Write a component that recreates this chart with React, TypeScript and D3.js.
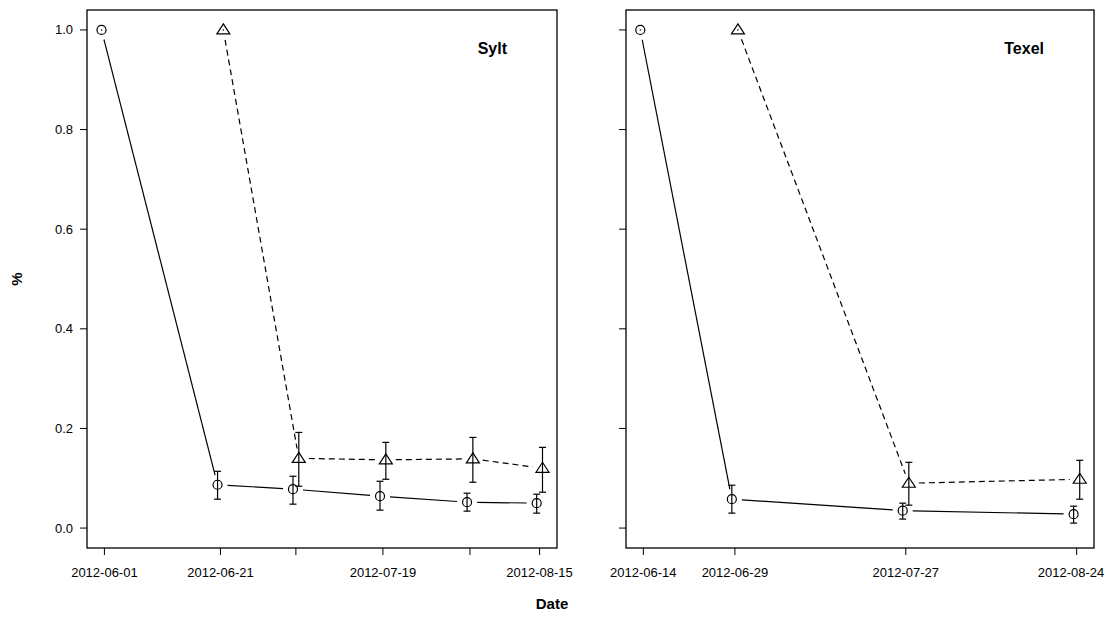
import React from "react";
import * as d3 from "d3";

// ---- data ----
const syltCircleDates = ["2012-06-01", "2012-06-21", "2012-07-04", "2012-07-19", "2012-08-03", "2012-08-15"];
const syltCircleVals = [1.0, 0.087, 0.078, 0.064, 0.052, 0.05];
const syltCircleLo = [1.0, 0.058, 0.048, 0.036, 0.034, 0.03];
const syltCircleHi = [1.0, 0.114, 0.104, 0.094, 0.07, 0.068];

const syltTriDates = ["2012-06-21", "2012-07-04", "2012-07-19", "2012-08-03", "2012-08-15"];
const syltTriVals = [1.0, 0.14, 0.137, 0.139, 0.12];
const syltTriLo = [1.0, 0.084, 0.098, 0.092, 0.072];
const syltTriHi = [1.0, 0.192, 0.172, 0.182, 0.162];

const syltTicks = ["2012-06-01", "2012-06-21", "2012-07-04", "2012-07-19", "2012-08-03", "2012-08-15"];
const syltTickLabels = ["2012-06-01", "2012-06-21", "2012-07-19", "2012-08-15"];

const texelCircleDates = ["2012-06-14", "2012-06-29", "2012-07-27", "2012-08-24"];
const texelCircleVals = [1.0, 0.058, 0.035, 0.028];
const texelCircleLo = [1.0, 0.03, 0.018, 0.01];
const texelCircleHi = [1.0, 0.086, 0.05, 0.044];

const texelTriDates = ["2012-06-29", "2012-07-27", "2012-08-24"];
const texelTriVals = [1.0, 0.09, 0.098];
const texelTriLo = [1.0, 0.046, 0.058];
const texelTriHi = [1.0, 0.132, 0.136];

const texelTicks = ["2012-06-14", "2012-06-29", "2012-07-27", "2012-08-24"];
const texelTickLabels = ["2012-06-14", "2012-06-29", "2012-07-27", "2012-08-24"];

const yTicks = [0, 0.2, 0.4, 0.6, 0.8, 1.0];

const parse = d3.utcParse("%Y-%m-%d");
const FONT = "'Liberation Sans', Arial, sans-serif";
const DAY = 86400000;
const W = 1106, H = 617;

const zip = (dates, vals, lo, hi) =>
  dates.map((d, i) => ({ date: parse(d), v: vals[i], lo: lo[i], hi: hi[i] }));

function Series({ pts, x, y, shape, dashed, dx }) {
  const P = pts.map((p) => ({ px: x(new Date(+p.date + dx * DAY)), py: y(p.v), p }));
  const gap = 10;
  const segs = [];
  for (let i = 0; i < P.length - 1; i++) {
    const a = P[i], b = P[i + 1];
    const len = Math.hypot(b.px - a.px, b.py - a.py);
    if (len <= 2 * gap) continue;
    const ux = (b.px - a.px) / len, uy = (b.py - a.py) / len;
    segs.push([a.px + ux * gap, a.py + uy * gap, b.px - ux * gap, b.py - uy * gap]);
  }
  return (
    <g>
      {segs.map((s, i) => (
        <line key={"s" + i} x1={s[0]} y1={s[1]} x2={s[2]} y2={s[3]} stroke="#000" strokeWidth={1.2}
          strokeDasharray={dashed ? "6 4" : undefined} />
      ))}
      {P.map((q, i) => {
        const top = y(q.p.hi), bot = y(q.p.lo);
        return (
          <g key={"p" + i}>
            {bot - top > 1 && (
              <g stroke="#000" strokeWidth={1.2}>
                <line x1={q.px} x2={q.px} y1={top} y2={bot} />
                <line x1={q.px - 3.5} x2={q.px + 3.5} y1={top} y2={top} />
                <line x1={q.px - 3.5} x2={q.px + 3.5} y1={bot} y2={bot} />
              </g>
            )}
            {bot - top <= 1 && <circle cx={q.px} cy={q.py} r={0.8} fill="#000" />}
            {shape === "circle" ? (
              <circle cx={q.px} cy={q.py} r={4.5} fill="none" stroke="#000" strokeWidth={1.2} />
            ) : (
              <path
                d={`M${q.px},${q.py - 6}L${q.px + 6.5},${q.py + 4}L${q.px - 6.5},${q.py + 4}Z`}
                fill="none" stroke="#000" strokeWidth={1.2} />
            )}
          </g>
        );
      })}
    </g>
  );
}

function Panel({ left, right, top, bottom, ticks, tickLabels, circles, tris, title, showYLabels }) {
  const y = d3.scaleLinear().domain([-0.04, 1.04]).range([bottom, top]);
  const all = ticks.map(parse);
  const ext = d3.extent(all) as [Date, Date];
  const span = +ext[1] - +ext[0];
  const x = d3.scaleUtc()
    .domain([new Date(+ext[0] - span * 0.04), new Date(+ext[1] + span * 0.04)])
    .range([left, right]);
  return (
    <g fontFamily={FONT}>
      <rect x={left} y={top} width={right - left} height={bottom - top} fill="none" stroke="#000" strokeWidth={1.3} />
      {yTicks.map((t) => (
        <g key={t}>
          <line x1={left - 7} x2={left} y1={y(t)} y2={y(t)} stroke="#000" />
          {showYLabels && (
            <text x={left - 14} y={y(t) + 4.5} textAnchor="end" fontSize={13}>{t.toFixed(1)}</text>
          )}
        </g>
      ))}
      {ticks.map((t) => (
        <line key={t} x1={x(parse(t))} x2={x(parse(t))} y1={bottom} y2={bottom + 7} stroke="#000" />
      ))}
      {tickLabels.map((t) => (
        <text key={t} x={Math.min(x(parse(t)), W - 35)} y={bottom + 29} textAnchor="middle" fontSize={13}>{t}</text>
      ))}
      <Series pts={tris} x={x} y={y} shape="tri" dashed dx={0.5} />
      <Series pts={circles} x={x} y={y} shape="circle" dashed={false} dx={-0.5} />
      <text x={right - 50} y={top + 44} textAnchor="end" fontSize={16} fontWeight="bold">{title}</text>
    </g>
  );
}

export default function App() {
  const top = 10, bottom = 548;
  return (
    <svg width={W} height={H} style={{ position: "absolute", left: 0, top: 0, background: "#fff" }}>
      <Panel left={87} right={557} top={top} bottom={bottom}
        ticks={syltTicks} tickLabels={syltTickLabels}
        circles={zip(syltCircleDates, syltCircleVals, syltCircleLo, syltCircleHi)}
        tris={zip(syltTriDates, syltTriVals, syltTriLo, syltTriHi)}
        title="Sylt" showYLabels />
      <Panel left={626} right={1094} top={top} bottom={bottom}
        ticks={texelTicks} tickLabels={texelTickLabels}
        circles={zip(texelCircleDates, texelCircleVals, texelCircleLo, texelCircleHi)}
        tris={zip(texelTriDates, texelTriVals, texelTriLo, texelTriHi)}
        title="Texel" showYLabels={false} />
      <text x={552} y={609} textAnchor="middle" fontFamily={FONT} fontSize={15} fontWeight="bold">Date</text>
      <text transform={`translate(22,${(top + bottom) / 2}) rotate(-90)`} textAnchor="middle"
        fontFamily={FONT} fontSize={15} fontWeight="bold">%</text>
    </svg>
  );
}
